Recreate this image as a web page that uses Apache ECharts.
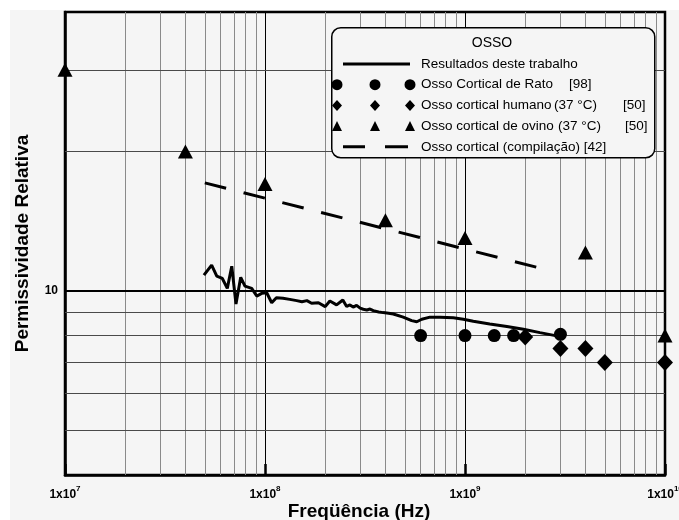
<!DOCTYPE html>
<html>
<head>
<meta charset="utf-8">
<script src="https://cdn.jsdelivr.net/npm/echarts@6/dist/echarts.min.js"></script>
<style>
  html, body { margin: 0; padding: 0; background: #ffffff; }
  #wrap { position: relative; width: 679px; height: 520px; background: #ffffff; overflow: hidden; }
  #chart { position: absolute; left: 10px; top: 10px; width: 669px; height: 510px; background: #f5f5f5; }
</style>
</head>
<body>
<div id="wrap"><div id="chart"></div></div>
<script>
// ---- data ----
const xTickValues = [1e7, 1e8, 1e9, 1e10];
const yTickValues = [10];
const xMinorGrid = [2e7,3e7,4e7,5e7,6e7,7e7,8e7,9e7,2e8,3e8,4e8,5e8,6e8,7e8,8e8,9e8,2e9,3e9,4e9,5e9,6e9,7e9,8e9,9e9];
const xMajorGrid = [1e8, 1e9];
const yMinorGrid = [5, 6, 7, 8, 9, 20, 30];
const yMajorGrid = [10];

const seriesNames = [
  'Resultados deste trabalho',
  'Osso Cortical de Rato [98]',
  'Osso cortical humano (37 °C) [50]',
  'Osso cortical de ovino (37 °C) [50]',
  'Osso cortical (compilação) [42]'
];

// Resultados deste trabalho (measured curve)
const resFreq = [4.95e7,5.41e7,5.74e7,6.12e7,6.48e7,6.82e7,7.16e7,7.56e7,7.94e7,8.58e7,9.09e7,9.63e7,1.02e8,1.08e8,1.14e8,1.23e8,1.33e8,1.44e8,1.53e8,1.62e8,1.71e8,1.85e8,2.0e8,2.11e8,2.28e8,2.45e8,2.56e8,2.66e8,2.76e8,2.87e8,2.99e8,3.1e8,3.23e8,3.35e8,3.48e8,3.7e8,3.9e8,4.15e8,4.38e8,4.91e8,5.41e8,5.74e8,6.08e8,6.68e8,7.5e8,8.74e8,9.81e8,1.1e9,1.33e9,1.62e9,1.96e9,2.37e9,2.87e9];
const resPerm = [10.81,11.36,10.75,10.63,10.12,11.30,9.36,10.69,10.23,10.12,9.74,9.87,9.90,9.42,9.66,9.63,9.58,9.52,9.47,9.52,9.40,9.42,9.24,9.50,9.32,9.55,9.25,9.32,9.22,9.30,9.17,9.12,9.09,9.13,9.06,9.00,8.97,8.94,8.91,8.77,8.62,8.57,8.68,8.77,8.77,8.74,8.68,8.59,8.48,8.37,8.26,8.12,7.99];

// Osso Cortical de Rato [98]
const ratoFreq = [6e8, 1e9, 1.4e9, 1.75e9, 3e9];
const ratoPerm = [8.0, 8.0, 8.0, 8.0, 8.05];

// Osso cortical humano (37 °C) [50]
const humFreq = [2e9, 3e9, 4e9, 5e9, 1e10];
const humPerm = [7.95, 7.5, 7.5, 7.0, 7.0];

// Osso cortical de ovino (37 °C) [50]
const ovFreq = [1e7, 4e7, 1e8, 4e8, 1e9, 4e9, 1e10];
const ovPerm = [30, 20, 17.0, 14.2, 13.0, 12.1, 8.0];

// Osso cortical (compilação) [42]
const compFreq = [5e7, 2.6e9];
const compPerm = [17.1, 11.08];

// ---- build ----
const FONT = "'Liberation Sans', Arial, Helvetica, sans-serif";
const zip = (a, b) => a.map((v, i) => [v, b[i]]);

const A = 'M0,0 M85,12 ';
const icons = [
  'path://' + A + 'M12,4.5 L79,4.5 L79,7.5 L12,7.5 Z',
  'path://' + A + 'M0.5,6 A5.5,5.5 0 1,1 11.5,6 A5.5,5.5 0 1,1 0.5,6 Z M38.5,6 A5.5,5.5 0 1,1 49.5,6 A5.5,5.5 0 1,1 38.5,6 Z M73.5,6 A5.5,5.5 0 1,1 84.5,6 A5.5,5.5 0 1,1 73.5,6 Z',
  'path://' + A + 'M1,6 L6,0.5 L11,6 L6,11.5 Z M39,6 L44,0.5 L49,6 L44,11.5 Z M74,6 L79,0.5 L84,6 L79,11.5 Z',
  'path://' + A + 'M1,11 L6,1 L11,11 Z M39,11 L44,1 L49,11 Z M74,11 L79,1 L84,11 Z',
  'path://' + A + 'M12,4.5 L34,4.5 L34,7.5 L12,7.5 Z M54,4.5 L77,4.5 L77,7.5 L54,7.5 Z'
];
const legendRich = [
  '{t|Resultados deste trabalho}',
  '{w148|Osso Cortical de Rato}{t|[98]}',
  '{w133|Osso cortical humano}{w69|(37 °C)}{t|[50]}',
  '{w137|Osso cortical de ovino}{w67|(37 °C)}{t|[50]}',
  '{t|Osso cortical (compilação) [42]}'
];
const tBase = { fontFamily: FONT, fontSize: 13.5, color: '#000', lineHeight: 14 };

const gridLines = [];
xMinorGrid.forEach(v => gridLines.push({ xAxis: v, lineStyle: { color: '#8a8a8a', width: 1, type: 'solid' } }));
xMajorGrid.forEach(v => gridLines.push({ xAxis: v, lineStyle: { color: '#000', width: 1, type: 'solid' } }));
yMinorGrid.forEach(v => gridLines.push({ yAxis: v, lineStyle: { color: '#4a4a4a', width: 1, type: 'solid' } }));
yMajorGrid.forEach(v => gridLines.push({ yAxis: v, lineStyle: { color: '#000', width: 2, type: 'solid' } }));

const chart = echarts.init(document.getElementById('chart'), null, { renderer: 'canvas' });
chart.setOption({
  backgroundColor: '#f5f5f5',
  animation: false,
  grid: { left: 55, right: 14, top: 2, bottom: 45, containLabel: false, outerBoundsMode: 'none',
          show: true, borderColor: '#000', borderWidth: 2.5, backgroundColor: 'transparent' },
  xAxis: {
    type: 'log', logBase: 10, min: 1e7, max: 1e10,
    name: 'Freqüência (Hz)', nameLocation: 'middle', nameGap: 27, nameMoveOverlap: false,
    nameTextStyle: { fontFamily: FONT, fontSize: 19, fontWeight: 'bold', color: '#000', padding: [0, 12, 0, 0] },
    axisLine: { lineStyle: { color: '#000', width: 2.5 } },
    axisTick: { inside: true, length: 11, lineStyle: { color: '#000', width: 2.5 }, customValues: xTickValues },
    splitLine: { show: false },
    axisLabel: {
      margin: 10, customValues: xTickValues, hideOverlap: false,
      formatter: v => '{b|1x10}{s|' + Math.round(Math.log10(v)) + '}',
      rich: {
        b: { fontFamily: FONT, fontSize: 12, fontWeight: 'bold', color: '#000', lineHeight: 16, verticalAlign: 'bottom' },
        s: { fontFamily: FONT, fontSize: 8, fontWeight: 'bold', color: '#000', lineHeight: 8, verticalAlign: 'top' }
      }
    }
  },
  yAxis: {
    type: 'log', logBase: 10, min: 4, max: 40,
    name: 'Permissividade Relativa', nameLocation: 'middle', nameGap: 33, nameMoveOverlap: false,
    nameTextStyle: { fontFamily: FONT, fontSize: 19, fontWeight: 'bold', color: '#000' },
    axisLine: { lineStyle: { color: '#000', width: 2.5 } },
    axisTick: { inside: true, length: 15, lineStyle: { color: '#000', width: 2 }, customValues: yTickValues },
    splitLine: { show: false },
    axisLabel: { margin: 7, customValues: yTickValues, fontFamily: FONT, fontSize: 12, fontWeight: 'bold', color: '#000' }
  },
  legend: {
    orient: 'vertical', left: 321, top: 47, padding: 0, itemGap: 6.7,
    itemWidth: 85, itemHeight: 12, selectedMode: false, z: 10,
    itemStyle: { color: '#000', borderWidth: 0 },
    data: seriesNames.map((n, i) => ({ name: n, icon: icons[i] })),
    formatter: name => legendRich[seriesNames.indexOf(name)],
    textStyle: Object.assign({}, tBase, {
      rich: {
        t: tBase,
        w148: Object.assign({ width: 148 }, tBase),
        w133: Object.assign({ width: 133 }, tBase),
        w69: Object.assign({ width: 69 }, tBase),
        w137: Object.assign({ width: 137 }, tBase),
        w67: Object.assign({ width: 67 }, tBase)
      }
    })
  },
  graphic: {
    elements: [
      { type: 'rect', left: 321, top: 17, z: 8, shape: { width: 323, height: 130, r: 9 }, style: { fill: '#f5f5f5', stroke: '#000', lineWidth: 1.5 } },
      { type: 'text', x: 482, y: 33, z: 11, style: { text: 'OSSO', x: 0, y: 0, align: 'center', verticalAlign: 'middle', fontFamily: FONT, fontSize: 14, fill: '#000' } }
    ]
  },
  series: [
    { name: '_grid', type: 'line', data: [], z: 1, silent: true,
      markLine: { z: 1, silent: true, symbol: ['none', 'none'], label: { show: false }, animation: false, data: gridLines } },
    { name: seriesNames[0], type: 'line', z: 3, data: zip(resFreq, resPerm), showSymbol: false, symbol: 'none',
      lineStyle: { color: '#000', width: 3 }, itemStyle: { color: '#000' } },
    { name: seriesNames[1], type: 'scatter', z: 4, data: zip(ratoFreq, ratoPerm), symbol: 'circle', symbolSize: 13,
      itemStyle: { color: '#000', opacity: 1 } },
    { name: seriesNames[2], type: 'scatter', z: 4, data: zip(humFreq, humPerm), symbol: 'diamond', symbolSize: [16, 17],
      itemStyle: { color: '#000', opacity: 1 } },
    { name: seriesNames[3], type: 'scatter', z: 4, data: zip(ovFreq, ovPerm), symbol: 'triangle', symbolSize: [15, 14],
      itemStyle: { color: '#000', opacity: 1 } },
    { name: seriesNames[4], type: 'line', z: 3, data: zip(compFreq, compPerm), showSymbol: false, symbol: 'none',
      lineStyle: { color: '#000', width: 3, type: [22, 18] }, itemStyle: { color: '#000' } }
  ]
});
</script>
</body>
</html>
